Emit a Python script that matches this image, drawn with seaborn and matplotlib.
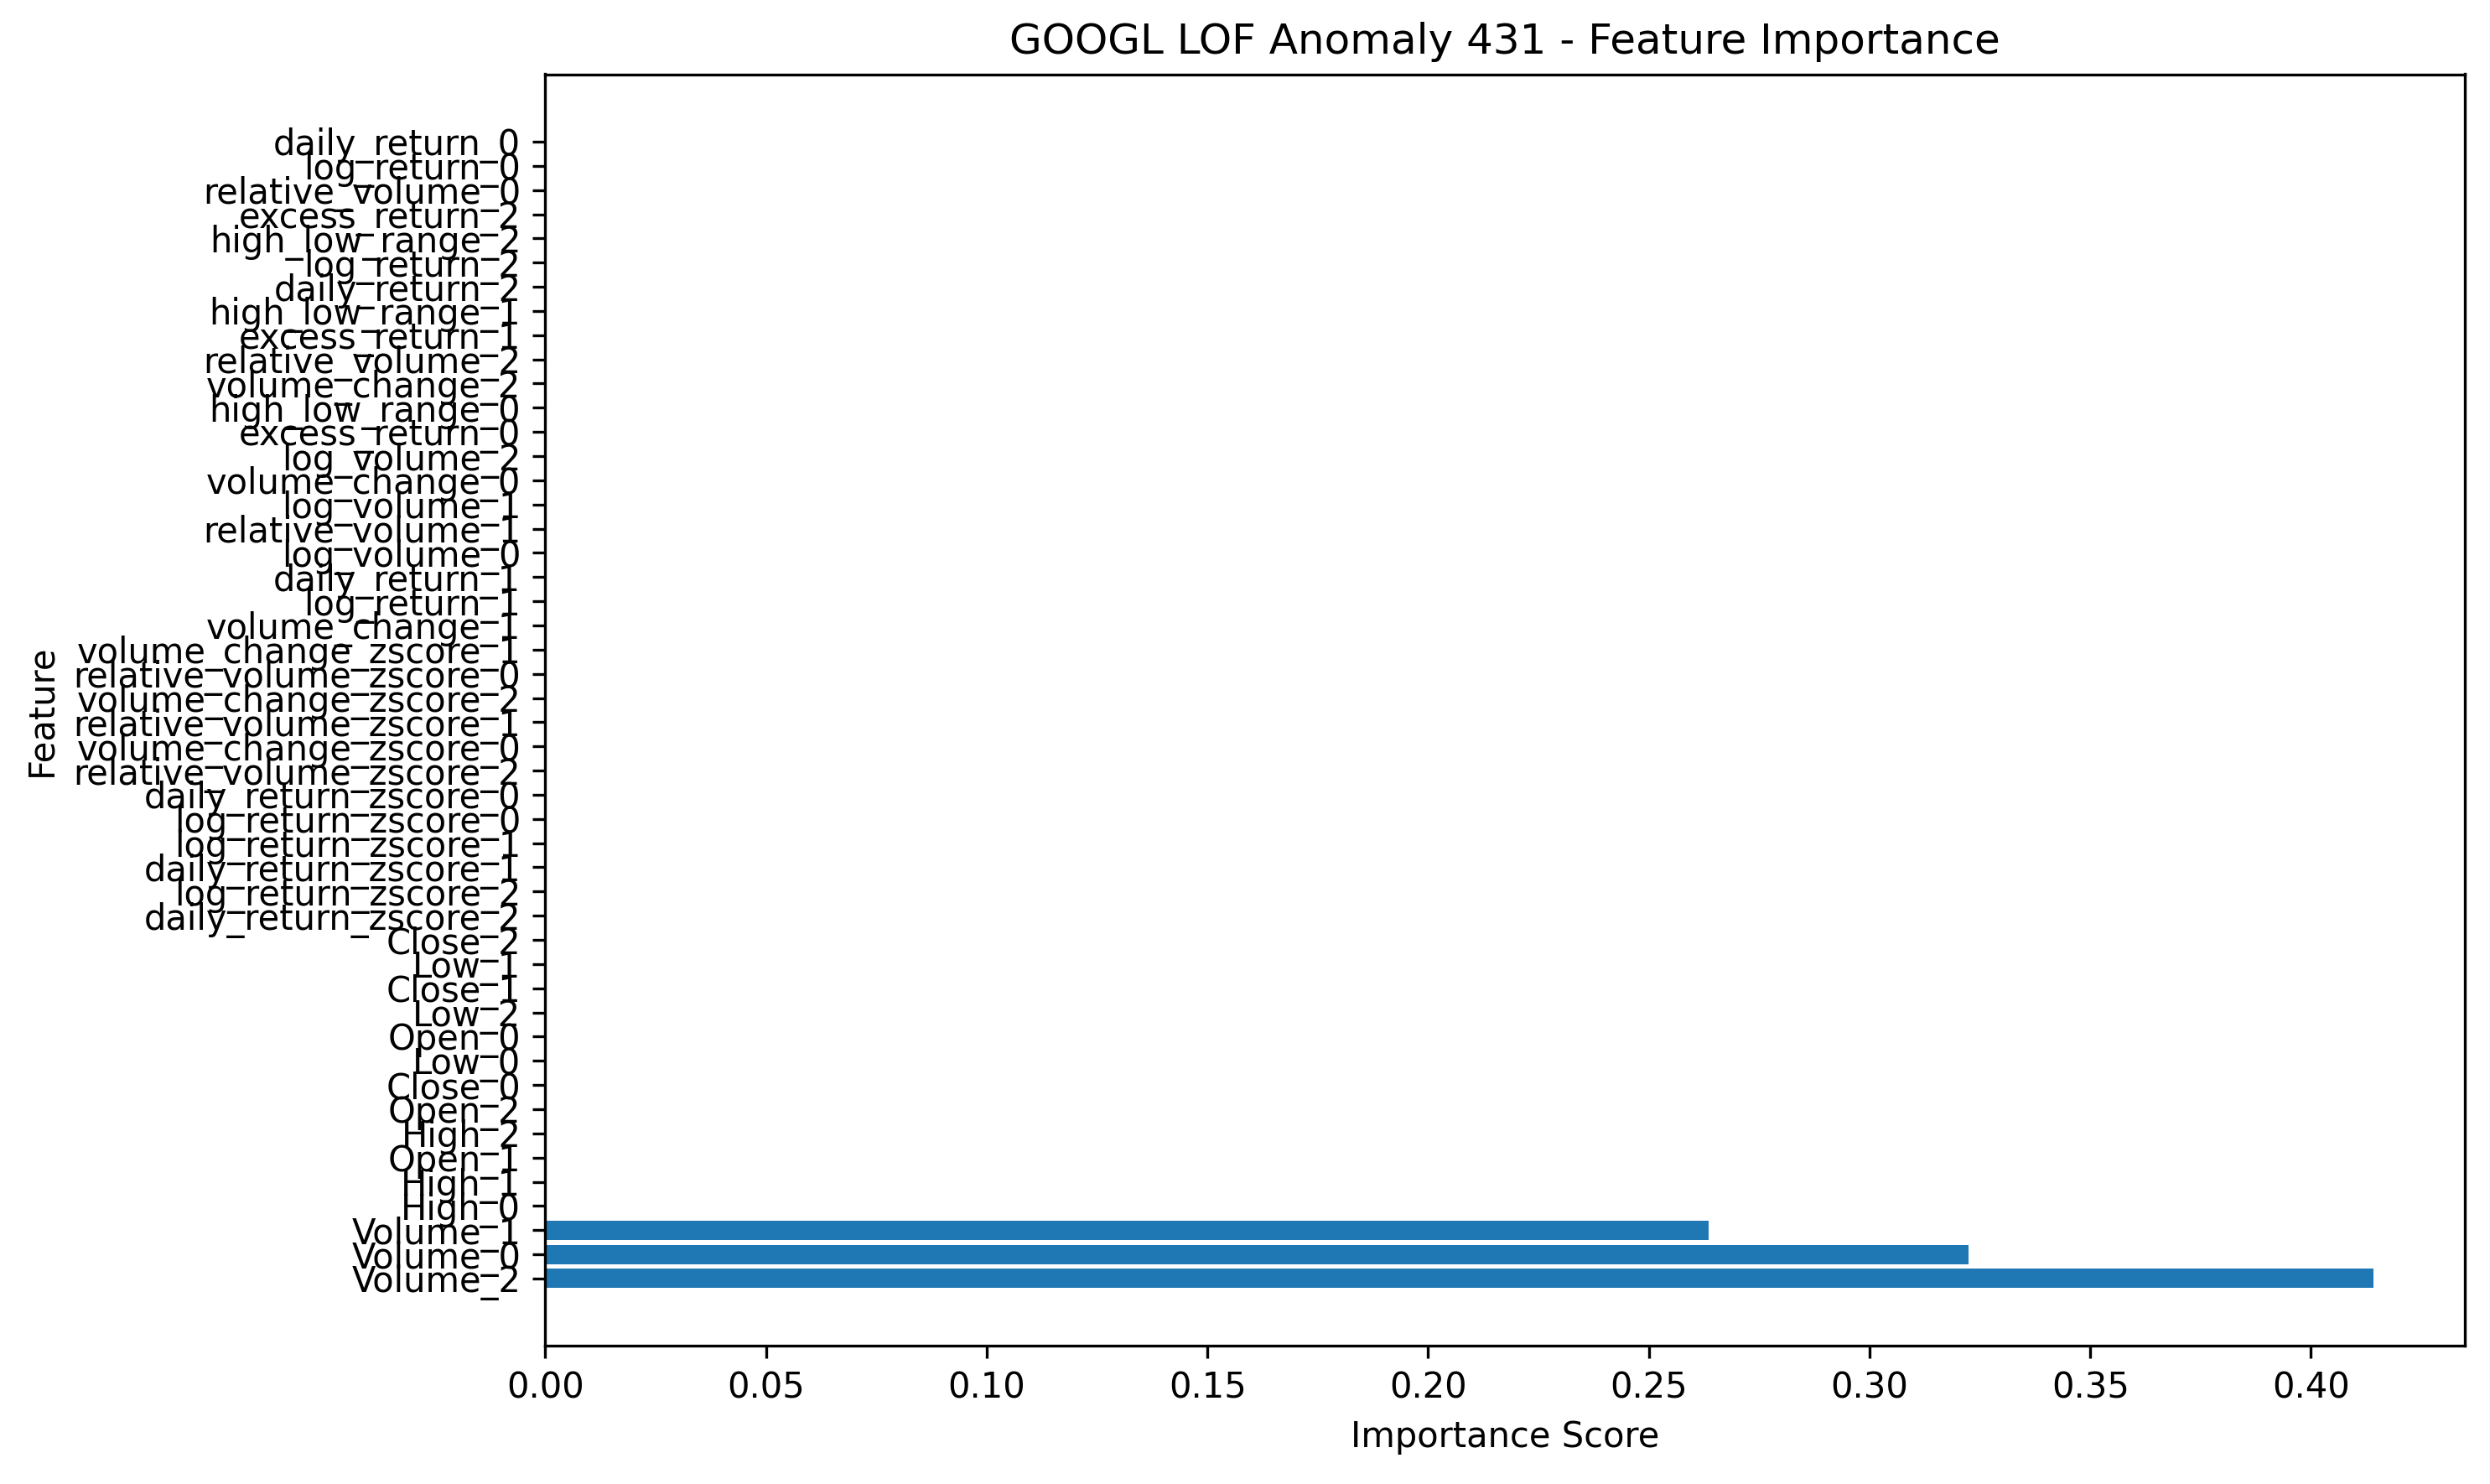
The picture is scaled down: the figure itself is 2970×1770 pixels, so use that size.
import matplotlib
matplotlib.use("Agg")
import matplotlib.pyplot as plt
import seaborn as sns
import pandas as pd

# top to bottom as shown in the chart
features = [
    "daily_return_0", "log_return_0", "relative_volume_0", "excess_return_2",
    "high_low_range_2", "log_return_2", "daily_return_2", "high_low_range_1",
    "excess_return_1", "relative_volume_2", "volume_change_2", "high_low_range_0",
    "excess_return_0", "log_volume_2", "volume_change_0", "log_volume_1",
    "relative_volume_1", "log_volume_0", "daily_return_1", "log_return_1",
    "volume_change_1", "volume_change_zscore_1", "relative_volume_zscore_0",
    "volume_change_zscore_2", "relative_volume_zscore_1", "volume_change_zscore_0",
    "relative_volume_zscore_2", "daily_return_zscore_0", "log_return_zscore_0",
    "log_return_zscore_1", "daily_return_zscore_1", "log_return_zscore_2",
    "daily_return_zscore_2", "Close_2", "Low_1", "Close_1", "Low_2", "Open_0",
    "Low_0", "Close_0", "Open_2", "High_2", "Open_1", "High_1", "High_0",
    "Volume_1", "Volume_0", "Volume_2",
]
importance = [0.0] * 45 + [0.2635, 0.3225, 0.4142]

df = pd.DataFrame({"Feature": features, "Importance": importance})

fig, ax = plt.subplots(figsize=(9.9, 5.9), dpi=300)
sns.barplot(data=df, x="Importance", y="Feature", order=features,
            color="#1f77b4", saturation=1, width=0.8, ax=ax)
n = len(features)
ax.set_ylim(n - 1 + 0.4 + 2.39, -0.4 - 2.39)
ax.set_xlim(0, max(importance) * 1.05)
ax.set_xlabel("Importance Score")
ax.set_ylabel("Feature")
ax.set_title("GOOGL LOF Anomaly 431 - Feature Importance")
fig.subplots_adjust(left=0.219, right=0.990, top=0.950, bottom=0.093)
plt.savefig("out.png", dpi=300)
